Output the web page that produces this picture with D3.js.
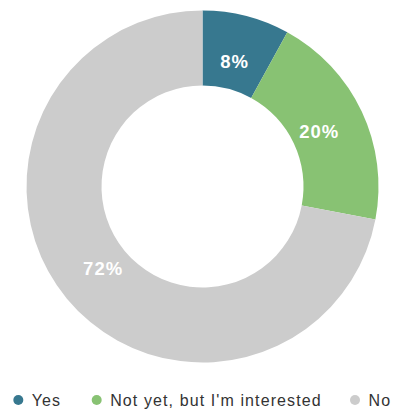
<!DOCTYPE html>
<html>
<head>
<meta charset="utf-8">
<script src="https://cdn.jsdelivr.net/npm/d3@7"></script>
<style>
  html, body { margin: 0; padding: 0; background: #fff; }
  svg { display: block; font-family: "Liberation Sans", Arial, sans-serif; }
</style>
</head>
<body>
<svg id="chart" width="403" height="410"></svg>
<script>
// Survey answers and their shares (percent)
const categories = ["Yes", "Not yet, but I'm interested", "No"];
const values = [8, 20, 72];
const colors = ["#37788f", "#88c273", "#cccccc"];

const width = 403, height = 410;
const cx = 202.5, cy = 186.5;
const outerR = 176, innerR = 101;

const svg = d3.select("#chart");

const pie = d3.pie().sort(null).value(d => d.value);
const arcs = pie(categories.map((c, i) => ({ name: c, value: values[i], color: colors[i] })));

const arc = d3.arc().innerRadius(innerR).outerRadius(outerR);
const labelArc = d3.arc().innerRadius(129).outerRadius(129);

const g = svg.append("g").attr("transform", `translate(${cx},${cy})`);

g.selectAll("path.slice")
  .data(arcs)
  .join("path")
  .attr("class", "slice")
  .attr("d", arc)
  .attr("fill", d => d.data.color);

g.selectAll("text.value")
  .data(arcs)
  .join("text")
  .attr("class", "value")
  .attr("transform", d => `translate(${labelArc.centroid(d)})`)
  .attr("text-anchor", "middle")
  .attr("dy", "0.36em")
  .attr("fill", "#ffffff")
  .attr("font-size", 18.5)
  .attr("font-weight", "bold")
  .attr("letter-spacing", 1)
  .text(d => d.data.value + "%");

// Legend along the bottom
const legendX = [18.3, 96.7, 355];
const legend = svg.append("g").attr("transform", "translate(0,400)");
const items = legend.selectAll("g.item")
  .data(categories)
  .join("g")
  .attr("class", "item")
  .attr("transform", (d, i) => `translate(${legendX[i]},0)`);

items.append("circle")
  .attr("r", 5)
  .attr("fill", (d, i) => colors[i]);

items.append("text")
  .attr("x", 13.5)
  .attr("dy", "0.36em")
  .attr("fill", "#333333")
  .attr("font-size", 16)
  .attr("letter-spacing", 1.1)
  .text(d => d);
</script>
</body>
</html>
